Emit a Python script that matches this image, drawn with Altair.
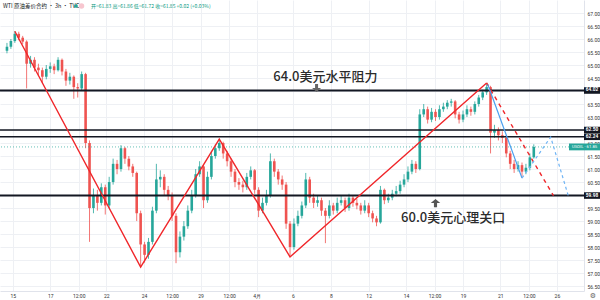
import altair as alt
import pandas as pd

# ---------------- data ----------------
first_open = 65.55
close = [65.70, 65.92, 66.20, 66.05, 65.90, 65.05, 65.20, 64.90, 64.80, 64.55,
         64.85, 64.95, 64.80, 65.20, 64.75, 64.40, 64.55, 64.15, 64.10, 64.65,
         62.00, 59.50, 60.00, 59.70, 60.30, 59.60, 60.50, 61.20, 61.00, 61.80,
         61.40, 61.10, 60.85, 59.30, 58.10, 57.70, 58.20, 59.40, 60.60, 60.70,
         60.20, 60.00, 59.20, 57.80, 58.40, 58.80, 59.40, 60.00, 60.80, 61.10,
         59.80, 60.70, 61.50, 61.80, 62.00, 61.60, 61.30, 60.90, 60.50, 60.40,
         60.30, 60.70, 60.95, 60.20, 59.40, 59.70, 60.00, 61.30, 60.90, 60.60,
         60.40, 58.90, 58.00, 58.90, 59.20, 59.60, 60.60, 59.90, 59.70, 59.80,
         59.40, 59.20, 59.60, 59.40, 59.70, 59.80, 59.50, 59.90, 59.70, 59.60,
         59.40, 59.60, 59.30, 59.10, 58.95, 60.20, 59.80, 59.90, 60.05, 60.15,
         60.40, 60.60, 60.90, 61.20, 61.00, 63.10, 63.30, 62.90, 63.20, 63.00,
         63.30, 63.40, 63.55, 63.60, 63.10, 62.90, 63.10, 63.30, 63.20, 63.50,
         63.75, 63.95, 64.15, 62.40, 62.50, 62.30, 62.20, 61.60, 61.20, 61.00,
         61.15, 60.90, 61.05, 61.45, 61.85]
high = [65.85, 66.00, 66.30, 66.28, 66.12, 65.95, 65.35, 65.30, 65.05, 64.90,
        65.00, 65.10, 65.05, 65.30, 65.25, 64.85, 64.70, 64.60, 64.30, 64.75,
        64.70, 62.10, 60.25, 60.20, 60.45, 60.40, 60.70, 61.40, 61.35, 61.92,
        61.85, 61.50, 61.20, 60.90, 59.40, 58.20, 58.35, 59.55, 61.20, 60.95,
        60.80, 60.35, 60.10, 59.30, 58.60, 59.00, 59.60, 60.20, 61.00, 61.30,
        61.15, 60.90, 61.70, 61.95, 62.15, 62.05, 61.70, 61.40, 61.00, 60.65,
        60.55, 60.85, 61.10, 61.00, 60.30, 59.90, 60.20, 61.60, 61.40, 61.00,
        60.75, 60.50, 59.00, 59.10, 59.40, 59.75, 60.85, 60.70, 60.05, 60.00,
        59.90, 59.50, 59.80, 59.70, 59.90, 60.00, 59.90, 60.05, 60.00, 59.85,
        59.70, 59.80, 59.70, 59.40, 59.20, 60.35, 60.25, 60.05, 60.20, 60.35,
        60.55, 60.80, 61.10, 61.35, 61.30, 63.30, 63.50, 63.40, 63.35, 63.30,
        63.45, 63.55, 63.65, 63.70, 63.65, 63.20, 63.25, 63.45, 63.40, 63.60,
        63.85, 64.05, 64.31, 64.20, 62.70, 62.60, 62.45, 62.30, 61.70, 61.35,
        61.30, 61.25, 61.20, 61.60, 61.95]
low = [65.45, 65.62, 65.85, 65.95, 65.80, 64.10, 64.90, 64.75, 64.60, 64.30,
       64.45, 64.70, 64.65, 64.75, 64.60, 64.20, 64.25, 63.70, 63.75, 64.00,
       61.80, 58.20, 59.30, 59.40, 59.60, 59.25, 59.50, 60.40, 60.80, 60.90,
       61.20, 60.95, 60.70, 59.00, 57.23, 57.40, 57.55, 58.10, 59.30, 60.30,
       60.00, 59.80, 59.00, 57.38, 57.60, 58.25, 58.70, 59.30, 59.90, 60.70,
       59.50, 59.70, 60.60, 61.40, 61.70, 61.40, 61.10, 60.70, 60.30, 60.20,
       60.10, 60.20, 60.60, 60.05, 59.15, 59.30, 59.60, 59.90, 60.70, 60.40,
       60.20, 58.70, 57.62, 57.90, 58.80, 59.10, 59.50, 59.70, 59.50, 59.55,
       59.20, 58.15, 59.10, 59.25, 59.30, 59.60, 59.35, 59.40, 59.55, 59.45,
       59.25, 59.30, 59.15, 58.95, 58.80, 58.90, 59.65, 59.70, 59.80, 59.95,
       60.05, 60.30, 60.50, 60.80, 60.85, 60.95, 63.00, 62.75, 62.80, 62.85,
       62.90, 63.20, 63.30, 63.40, 62.95, 62.75, 62.80, 63.00, 63.05, 63.10,
       63.40, 63.65, 63.85, 61.60, 62.20, 62.10, 62.00, 61.45, 61.00, 60.85,
       60.90, 60.70, 60.80, 60.95, 61.40]

x_tick_pos = [1.5, 11, 18.25, 25.25, 34.875, 42, 49.25, 56.5, 63.5, 72.75,
              82.375, 92, 101.5, 108.75, 116, 125.5, 132.75, 139.875]
x_tick_lbl = ["15", "17", "12:00", "22", "24", "12:00", "29", "12:00", "4月", "6",
              "8", "12", "14", "12:00", "19", "21", "12:00", "26"]
y_ticks = [56.5, 57.0, 57.5, 58.0, 58.5, 59.0, 59.5, 60.0, 60.5, 61.0, 61.5,
           62.0, 62.5, 63.0, 63.5, 64.0, 64.5, 65.0, 65.5, 66.0, 66.5, 67.0]
y_hidden = [60.0, 62.5, 64.0]   # tick labels covered by the level tags

levels = [64.02, 62.50, 62.24, 59.98]
level_lbl = ["64.02", "62.50", "62.24", "59.98"]
level_w = [2.0, 1.6, 1.6, 2.0]

zig_x = [2, 34, 54, 72, 122]
zig_p = [66.30, 57.23, 62.15, 57.62, 64.31]
rdash_x = [122, 139]
rdash_p = [64.31, 59.98]
bsolid_x = [122.3, 131]
bsolid_p = [64.25, 60.65]
bdot_x = [131, 138.3, 142.8]
bdot_p = [60.65, 62.23, 59.96]

last_price = 61.85
notes = ["64.0美元水平阻力", "60.0美元心理关口"]
note_x = [67.75, 100.25]
note_p = [64.54, 59.12]
arrow_up_xp = (109, 59.69)
arrow_dn_xp = (78.75, 64.12)

# ---------------- tables ----------------
opens = [first_open] + close[:-1]
candles = pd.DataFrame({"i": list(range(len(close))), "o": opens, "h": high,
                        "l": low, "c": close})
candles["dir"] = ["up" if c >= o else "down" for o, c in zip(opens, close)]

lv = pd.DataFrame({"p": levels, "lbl": level_lbl, "w": level_w})
zig = pd.DataFrame({"x": zig_x, "p": zig_p, "k": list(range(len(zig_x)))})
rdash = pd.DataFrame({"x": rdash_x, "p": rdash_p, "k": [0, 1]})
bsolid = pd.DataFrame({"x": bsolid_x, "p": bsolid_p, "k": [0, 1]})
bdot = pd.DataFrame({"x": bdot_x, "p": bdot_p, "k": [0, 1, 2]})
notes_df = pd.DataFrame({"x": note_x, "p": note_p, "t": notes})
arr_up = pd.DataFrame({"x": [arrow_up_xp[0]], "p": [arrow_up_xp[1]]})
arr_dn = pd.DataFrame({"x": [arrow_dn_xp[0]], "p": [arrow_dn_xp[1]]})
lastdf = pd.DataFrame({"p": [last_price], "lbl": ["USOIL · 61.85"]})

# ---------------- scales / axes ----------------
W, H = 584, 291
xs = alt.Scale(domain=[-0.5, 145.5], nice=False, zero=False)
ys = alt.Scale(domain=[56.31, 67.5], nice=False, zero=False)

label_expr = "[" + ",".join("'%s'" % s for s in x_tick_lbl) + "][indexof([" + \
    ",".join(str(v) for v in x_tick_pos) + "], datum.value)]"
y_label_expr = "indexof([" + ",".join(str(v) for v in y_hidden) + \
    "], datum.value) >= 0 ? '' : format(datum.value, '.2f')"

x_axis = alt.Axis(values=x_tick_pos, labelExpr=label_expr, title=None, ticks=False,
                  labelFontSize=5, labelColor="#333", labelFont="Roboto",
                  labelPadding=2.5, domainColor="#e0e3eb", gridColor="#eef0f4",
                  labelOverlap=False, labelFlush=False)
y_axis = alt.Axis(orient="right", values=y_ticks, labelExpr=y_label_expr, title=None,
                  ticks=False, labelFontSize=5, labelColor="#333", labelFont="Roboto",
                  labelPadding=3, domainColor="#e0e3eb", gridColor="#eef0f4",
                  labelOverlap=False, labelFlush=False)


def X(field):
    return alt.X(field, scale=xs, axis=x_axis)


def Y(field):
    return alt.Y(field, scale=ys, axis=y_axis)


col = alt.Color("dir:N", scale=alt.Scale(domain=["up", "down"],
                                         range=["#26a69a", "#ef5350"]), legend=None)

wicks = alt.Chart(candles).mark_rule(strokeWidth=0.8).encode(
    x=X("i:Q"), y=Y("l:Q"), y2="h:Q", color=col)
bodies = alt.Chart(candles).mark_bar(size=2.6).encode(
    x=X("i:Q"), y=Y("o:Q"), y2="c:Q", color=col)

price_line = alt.Chart(lastdf).mark_rule(strokeDash=[1, 2], color="#26a69a",
                                          opacity=0.7, strokeWidth=1).encode(y=Y("p:Q"))

level_rules = alt.Chart(lv).mark_rule(color="#131722").encode(
    y=Y("p:Q"), strokeWidth=alt.StrokeWidth("w:Q", scale=None))


def line_layer(df, color, width, dash=None):
    kw = dict(color=color, strokeWidth=width)
    if dash:
        kw["strokeDash"] = dash
    return alt.Chart(df).mark_line(**kw).encode(x=X("x:Q"), y=Y("p:Q"), order="k:Q")


zig_l = line_layer(zig, "#f0262a", 1.4)
rdash_l = line_layer(rdash, "#f0262a", 1.4, [4, 4])
bsolid_l = line_layer(bsolid, "#4a9ff0", 1.2)
bdot_l = line_layer(bdot, "#6fb4f5", 1.2, [3, 3])

notes_l = alt.Chart(notes_df).mark_text(align="left", baseline="middle", fontSize=13,
                                        font="Noto Sans CJK SC", fontWeight=500,
                                        color="#2b2b2b").encode(
    x=X("x:Q"), y=Y("p:Q"), text="t:N")

up_path = "M0,-0.8L0.9,0L0.3,0L0.3,0.8L-0.3,0.8L-0.3,0L-0.9,0Z"
dn_path = "M0,0.8L0.9,0L0.3,0L0.3,-0.8L-0.3,-0.8L-0.3,0L-0.9,0Z"
arr_up_l = alt.Chart(arr_up).mark_point(shape=up_path, size=110, filled=True, opacity=1,
                                        color="#555", strokeWidth=0).encode(
    x=X("x:Q"), y=Y("p:Q"))
arr_dn_l = alt.Chart(arr_dn).mark_point(shape=dn_path, size=100, filled=True, opacity=1,
                                        color="#666", strokeWidth=0).encode(
    x=X("x:Q"), y=Y("p:Q"))

box_path = "M-1,-0.41L1,-0.41L1,0.41L-1,0.41Z"
lvl_box = alt.Chart(lv).mark_point(shape=box_path, size=256, filled=True, opacity=1,
                                   color="#131722", strokeWidth=0).encode(
    x=alt.value(592), y=Y("p:Q"))
lvl_txt = alt.Chart(lv).mark_text(color="white", fontSize=4.8, fontWeight="bold",
                                  font="Roboto", baseline="middle").encode(
    x=alt.value(592), y=Y("p:Q"), text="lbl:N")

gbox_path = "M-1,-0.22L1,-0.22L1,0.22L-1,0.22Z"
last_box = alt.Chart(lastdf).mark_point(shape=gbox_path, size=961, filled=True, opacity=1,
                                        color="#26a69a", strokeWidth=0).encode(
    x=alt.value(584.5), y=Y("p:Q"))
last_txt = alt.Chart(lastdf).mark_text(color="white", fontSize=4.2, font="Roboto",
                                       baseline="middle").encode(
    x=alt.value(584.5), y=Y("p:Q"), text="lbl:N")

hdr = pd.DataFrame({"t": ["WTI 原油差价合约 · 3h · TVC"]})
hdr_l = alt.Chart(hdr).mark_text(align="left", baseline="middle", fontSize=5.5,
                                 font="Noto Sans CJK SC", color="#131722").encode(
    x=alt.value(3), y=alt.value(6), text="t:N")
ohlc = pd.DataFrame({"t": ["开=61.83 高=61.86 低=61.72 收=61.85 +0.02 (+0.03%)"]})
ohlc_l = alt.Chart(ohlc).mark_text(align="left", baseline="middle", fontSize=5,
                                   font="Noto Sans CJK SC", color="#089981").encode(
    x=alt.value(91), y=alt.value(6), text="t:N")
dots = pd.DataFrame({"c": ["g", "r"]})
dot_g = alt.Chart(dots.iloc[:1]).mark_point(shape="circle", size=14, filled=True,
                                             opacity=1, color="#26a69a").encode(
    x=alt.value(76), y=alt.value(6))
dot_r = alt.Chart(dots.iloc[1:]).mark_point(shape="circle", size=30, filled=True,
                                             opacity=1, color="#f7c6cf").encode(
    x=alt.value(81.5), y=alt.value(6))
gear = pd.DataFrame({"t": ["⚙"]})
gear_l = alt.Chart(gear).mark_text(fontSize=7, color="#666", baseline="middle",
                                   font="DejaVu Sans").encode(
    x=alt.value(593), y=alt.value(295.5), text="t:N")

chart = alt.layer(
    wicks, bodies, price_line, level_rules, zig_l, rdash_l, bsolid_l, bdot_l,
    notes_l, arr_up_l, arr_dn_l, lvl_box, lvl_txt, last_box, last_txt,
    hdr_l, ohlc_l, dot_g, dot_r, gear_l
).properties(
    width=W, height=H,
    padding={"left": 0, "top": 0, "right": 16, "bottom": 9},
    autosize=alt.AutoSizeParams(type="none"),
    background="white",
).configure_view(stroke=None)

chart.save("out.html", embed_options={"renderer": "svg", "actions": False})
